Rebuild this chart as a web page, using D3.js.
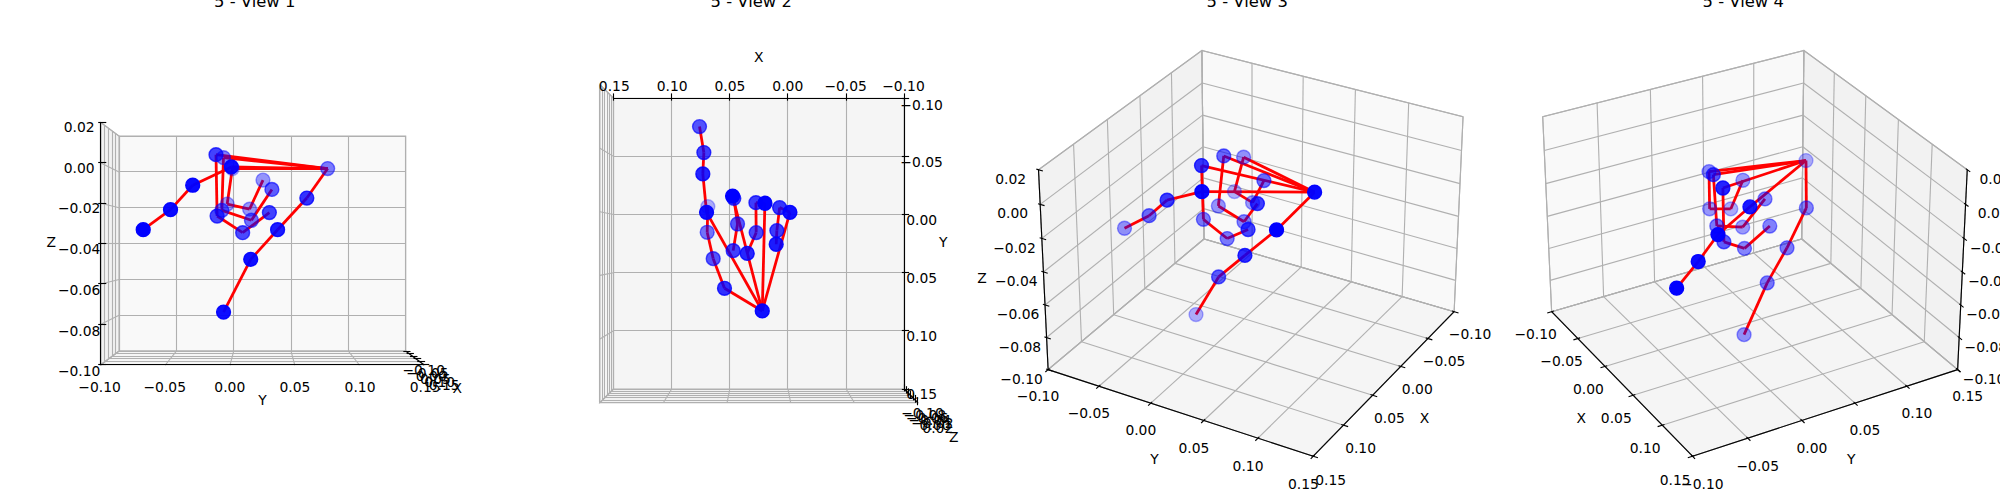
<!DOCTYPE html>
<html><head><meta charset="utf-8">
<script src="https://cdn.jsdelivr.net/npm/d3@7"></script>
<style>html,body{margin:0;padding:0;background:#fff}svg{display:block}text{font-family:"DejaVu Sans";fill:#000}</style>
</head><body><svg id="c" width="2000" height="500"></svg>
<script>
// Hand landmarks (wrist, thumb, index, middle, ring, pinky)
const xs=[.0223, .0528,.0624,.0678,.0681, .0668,.0701,.0697,.0736, .0459,.0454,.0425,.0459, .0202,.0274,.0272,.0344, .0002,.0082,.0104,.0111];
const ys=[.0788, .0611,.0373,.0156,-.0063, -.0000,-.0311,-.0490,-.0708, -.0128,-.0119,.0089,.0307, -.0071,-.0083,.0160,.0328, .0000,-.0042,.0144,.0255];
const zs=[-.0004, -.0163,-.0328,-.0481,-.0753, -.0004,-.0099,-.0225,-.0328, .0064,-.0256,-.0343,-.0238, .0054,-.0225,-.0277,-.0116, .0000,-.0190,-.0217,-.0063];
const chains=[[0,1,2,3,4],[0,5,6,7,8],[0,9,10,11,12],[0,13,14,15,16],[0,17,18,19,20]];
const xTicks=[-.10,-.05,0,.05,.10,.15], yTicks=[-.10,-.05,0,.05,.10,.15], zTicks=[-.10,-.08,-.06,-.04,-.02,0,.02];
const axisNames=["X","Y","Z"];
const viewTitles=["5 - View 1","5 - View 2","5 - View 3","5 - View 4"];
const elevs=[0,90,30,30], azims=[0,90,30,-30];
const highsByView=[[false,false,false],[true,true,false],[false,false,false],[false,true,false]];
const zTickDir=[1,1,1,0];
const axesLeft=[20,516.5,1012.5,1508.5], axesTop=14, axesSize=472;

const mins=[d3.min(xTicks),d3.min(yTicks),d3.min(zTicks)], maxs=[d3.max(xTicks),d3.max(yTicks),d3.max(zTicks)];
const box=[1.19051,1.19051,.89288], dist=10;
const cross=(a,b)=>[a[1]*b[2]-a[2]*b[1],a[2]*b[0]-a[0]*b[2],a[0]*b[1]-a[1]*b[0]];
const dot=(a,b)=>a[0]*b[0]+a[1]*b[1]+a[2]*b[2];
const unit=a=>{const n=Math.hypot(...a);return a.map(v=>v/n)};
const fmt=d3.format(".2f");
const svg=d3.select("#c");
const GRID="#b0b0b0";
const snap=v=>Math.floor(v)+.5;

viewTitles.forEach((title,vi)=>{
  const el=elevs[vi]*Math.PI/180, az=azims[vi]*Math.PI/180, highs=highsByView[vi];
  const R=box.map(b=>b/2);
  const dir=[Math.cos(el)*Math.cos(az),Math.cos(el)*Math.sin(az),Math.sin(el)];
  const E=R.map((r,i)=>r+dist*dir[i]);
  const w=unit(dir), u=unit(cross([0,0,1],w)), v=cross(w,u);
  const sx=d3.scaleLinear().domain([-.095,.09]).range([axesLeft[vi],axesLeft[vi]+axesSize]);
  const sy=d3.scaleLinear().domain([-.095,.09]).range([axesTop+axesSize,axesTop]);
  const proj=p=>{
    const b=p.map((c,i)=>(c-mins[i])/(maxs[i]-mins[i])*box[i]-E[i]);
    const d=-dot(w,b);
    return {x:sx(dot(u,b)/d),y:sy(dot(v,b)/d),d};
  };
  const g=svg.append("g");
  const minmax=[0,1,2].map(i=>highs[i]?maxs[i]:mins[i]);
  const maxmin=[0,1,2].map(i=>highs[i]?mins[i]:maxs[i]);
  const deltas=[0,1,2].map(i=>(maxs[i]-mins[i])/12);
  const centers=[0,1,2].map(i=>(maxs[i]+mins[i])/2);
  const line=(a,b,c,wd)=>{
    const p=proj(a),q=proj(b);
    let x1=p.x,y1=p.y,x2=q.x,y2=q.y;
    if(c!=="#f00"){
      if(Math.abs(x1-x2)<.01){x1=x2=snap(x1);}
      if(Math.abs(y1-y2)<.01){y1=y2=snap(y1);}
    }
    g.append("line").attr("x1",x1).attr("y1",y1).attr("x2",x2).attr("y2",y2).attr("stroke",c).attr("stroke-width",wd);
  };
  // panes
  const paneFill=["#f9f9f9","#f2f2f2","#f5f5f5"];
  [0,1,2].forEach(i=>{
    const a=(i+1)%3,b=(i+2)%3;
    const corners=[[mins[a],mins[b]],[maxs[a],mins[b]],[maxs[a],maxs[b]],[mins[a],maxs[b]]].map(([ca,cb])=>{
      const p=[];p[i]=minmax[i];p[a]=ca;p[b]=cb;const q=proj(p);return [q.x,q.y];});
    g.append("polygon").attr("points",corners.join(" ")).attr("fill",paneFill[i]).attr("stroke",GRID).attr("stroke-width",1.11);
  });
  const ticksFor=[xTicks,yTicks,zTicks];
  const juggled=[[1,0,2],[0,1,2],[0,2,1]];
  const tickDirs=[1,0,zTickDir[vi]];
  // grid
  [0,1,2].forEach(i=>{
    const i2=(i+1)%3,i1=(i+2)%3;
    ticksFor[i].forEach(t=>{
      const c=minmax.slice();c[i]=t;
      const p0=c.slice();p0[i1]=maxmin[i1];
      const p2=c.slice();p2[i2]=maxmin[i2];
      line(p0,c,GRID,1.11);line(c,p2,GRID,1.11);
    });
  });
  // axes
  const moveOut=(p,mask,k)=>p.map((c,i)=>mask[i]?c+(c>=centers[i]?1:-1)*k*deltas[i]:c);
  [0,1,2].forEach(i=>{
    const e1=minmax.slice();e1[juggled[i][0]]=maxmin[juggled[i][0]];
    const e2=e1.slice();e2[juggled[i][1]]=maxmin[juggled[i][1]];
    line(e1,e2,"#000",1.11);
    const td=tickDirs[i], tdelta=highs[td]?deltas[td]:-deltas[td];
    const mask=[true,true,true];mask[i]=false;
    ticksFor[i].forEach(t=>{
      const a=e1.slice();a[i]=t;a[td]=e1[td]+.1*tdelta;
      const b=e1.slice();b[i]=t;b[td]=e1[td]-.2*tdelta;
      line(a,b,"#000",1.11);
      const l=e1.slice();l[i]=t;
      const q=proj(moveOut(l,mask,.753));
      g.append("text").attr("x",q.x).attr("y",q.y+10.55).attr("text-anchor","middle").attr("font-size",13.89).text(fmt(t));
    });
    const mid=e1.map((c,k)=>(c+e2[k])/2);
    const q=proj(moveOut(mid,mask,1.7));
    g.append("text").attr("x",q.x).attr("y",q.y+3).attr("text-anchor","middle").attr("font-size",13.89).text(axisNames[i]);
  });
  // skeleton
  chains.forEach(ch=>d3.pairs(ch).forEach(([a,b])=>line([xs[a],ys[a],zs[a]],[xs[b],ys[b],zs[b]],"#f00",2.78)));
  // joints, far to near with depth shading
  const pts=xs.map((x,i)=>proj([x,ys[i],zs[i]]));
  const dExt=d3.extent(pts,p=>p.d);
  const alpha=d3.scaleLinear().domain(dExt).range([1,.3]);
  g.selectAll("circle").data(d3.sort(pts,(a,b)=>b.d-a.d)).join("circle")
    .attr("cx",p=>p.x).attr("cy",p=>p.y).attr("r",6.94).attr("fill","#00f").attr("fill-opacity",p=>alpha(p.d))
    .attr("stroke","#00f").attr("stroke-width",1.39).attr("stroke-opacity",p=>alpha(p.d));
  g.append("text").attr("x",axesLeft[vi]+axesSize/2-1.3).attr("y",7.3).attr("text-anchor","middle").attr("font-size",16.4).text(title);
});
</script></body></html>
